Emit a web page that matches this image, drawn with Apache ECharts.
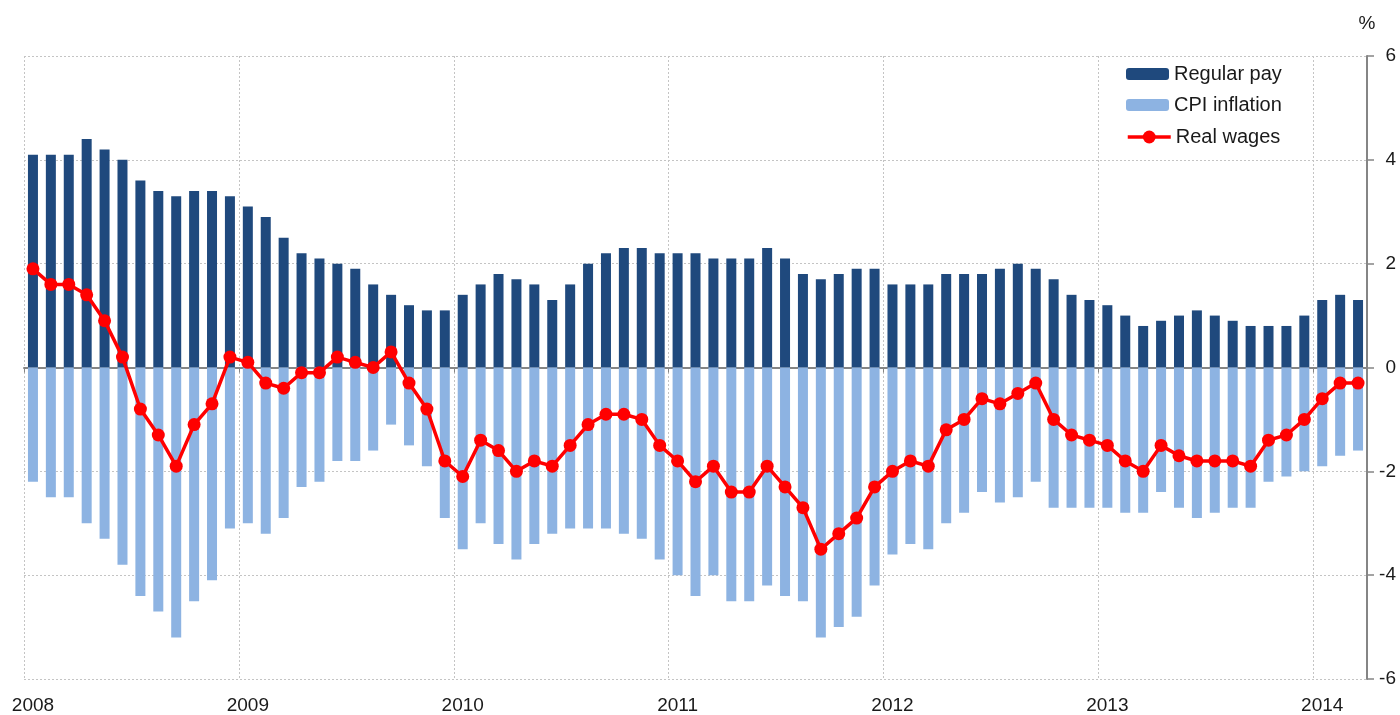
<!DOCTYPE html>
<html>
<head>
<meta charset="utf-8">
<script src="https://cdn.jsdelivr.net/npm/echarts@6/dist/echarts.min.js"></script>
<style>
html,body{margin:0;padding:0;background:#fff;}
#chart{width:1400px;height:715px;}
</style>
</head>
<body>
<div id="chart"></div>
<script>
// Tick labels / categories
const years = ['2008','2009','2010','2011','2012','2013','2014'];
const monthsInLastYear = 3;
const categories = [];
years.forEach(function (y, i) {
  const n = i === years.length - 1 ? monthsInLastYear : 12;
  for (let m = 1; m <= n; m++) categories.push(y + '-' + (m < 10 ? '0' + m : m));
});

// Series values (% y/y), Jan 2008 - Mar 2014
const regularPay = [
  4.1,4.1,4.1,4.4,4.2,4.0,3.6,3.4,3.3,3.4,3.4,3.3,
  3.1,2.9,2.5,2.2,2.1,2.0,1.9,1.6,1.4,1.2,1.1,1.1,
  1.4,1.6,1.8,1.7,1.6,1.3,1.6,2.0,2.2,2.3,2.3,2.2,
  2.2,2.2,2.1,2.1,2.1,2.3,2.1,1.8,1.7,1.8,1.9,1.9,
  1.6,1.6,1.6,1.8,1.8,1.8,1.9,2.0,1.9,1.7,1.4,1.3,
  1.2,1.0,0.8,0.9,1.0,1.1,1.0,0.9,0.8,0.8,0.8,1.0,
  1.3,1.4,1.3
];
const cpiInflation = [
  -2.2,-2.5,-2.5,-3.0,-3.3,-3.8,-4.4,-4.7,-5.2,-4.5,-4.1,-3.1,
  -3.0,-3.2,-2.9,-2.3,-2.2,-1.8,-1.8,-1.6,-1.1,-1.5,-1.9,-2.9,
  -3.5,-3.0,-3.4,-3.7,-3.4,-3.2,-3.1,-3.1,-3.1,-3.2,-3.3,-3.7,
  -4.0,-4.4,-4.0,-4.5,-4.5,-4.2,-4.4,-4.5,-5.2,-5.0,-4.8,-4.2,
  -3.6,-3.4,-3.5,-3.0,-2.8,-2.4,-2.6,-2.5,-2.2,-2.7,-2.7,-2.7,
  -2.7,-2.8,-2.8,-2.4,-2.7,-2.9,-2.8,-2.7,-2.7,-2.2,-2.1,-2.0,
  -1.9,-1.7,-1.6
];
const realWages = [
  1.9,1.6,1.6,1.4,0.9,0.2,-0.8,-1.3,-1.9,-1.1,-0.7,0.2,
  0.1,-0.3,-0.4,-0.1,-0.1,0.2,0.1,0.0,0.3,-0.3,-0.8,-1.8,
  -2.1,-1.4,-1.6,-2.0,-1.8,-1.9,-1.5,-1.1,-0.9,-0.9,-1.0,-1.5,
  -1.8,-2.2,-1.9,-2.4,-2.4,-1.9,-2.3,-2.7,-3.5,-3.2,-2.9,-2.3,
  -2.0,-1.8,-1.9,-1.2,-1.0,-0.6,-0.7,-0.5,-0.3,-1.0,-1.3,-1.4,
  -1.5,-1.8,-2.0,-1.5,-1.7,-1.8,-1.8,-1.8,-1.9,-1.4,-1.3,-1.0,
  -0.6,-0.3,-0.3
];
const seriesNames = ['Regular pay','CPI inflation','Real wages'];
const yTicks = { min: -6, max: 6, interval: 2 };

const FONT = '"Liberation Sans", Arial, sans-serif';
const TEXT = '#1a1a1a';
const isYearStart = function (idx) { return idx % 12 === 0; };
const legendText = { fontSize: 20, color: TEXT, fontFamily: FONT, lineHeight: 20 };

const chart = echarts.init(document.getElementById('chart'), null, { renderer: 'canvas' });
chart.setOption({
  animation: false,
  backgroundColor: '#ffffff',
  textStyle: { fontFamily: FONT, color: TEXT },
  grid: { left: 24, right: 33, top: 56, bottom: 35, containLabel: false },
  legend: [
    {
      orient: 'vertical', left: 1126, top: 64, padding: 0,
      itemWidth: 43, itemHeight: 12, itemGap: 11,
      textStyle: legendText,
      data: [seriesNames[0], seriesNames[1]]
    },
    {
      orient: 'vertical', left: 1126, top: 127, padding: 0,
      itemWidth: 43, itemHeight: 16, itemGap: 11,
      textStyle: legendText,
      lineStyle: { width: 3.5, color: '#FF0000' },
      data: [seriesNames[2]]
    }
  ],
  xAxis: [
    {
      type: 'category', data: categories, boundaryGap: true, position: 'bottom',
      axisLine: { show: false, onZero: false },
      axisTick: { show: false },
      axisLabel: {
        interval: function (idx) { return isYearStart(idx); },
        formatter: function (v) { return v.slice(0, 4); },
        fontSize: 19, color: TEXT, margin: 17, fontFamily: FONT
      },
      splitLine: {
        show: true,
        interval: function (idx) { return isYearStart(idx); },
        lineStyle: { color: '#c4c4c4', type: [2, 2], width: 1 }
      }
    },
    {
      type: 'category', data: categories, boundaryGap: true, position: 'bottom',
      axisLine: { show: true, onZero: true, lineStyle: { color: '#858585', width: 2 } },
      axisTick: {
        show: true, length: 5,
        interval: function (idx) { return isYearStart(idx); },
        lineStyle: { color: '#858585', width: 1 }
      },
      axisLabel: { show: false },
      splitLine: { show: false }
    }
  ],
  yAxis: {
    type: 'value', position: 'right',
    min: yTicks.min, max: yTicks.max, interval: yTicks.interval,
    name: '%', nameLocation: 'end', nameGap: 23,
    nameTextStyle: { fontSize: 19, color: TEXT, align: 'center', fontFamily: FONT },
    axisLine: { show: true, lineStyle: { color: '#858585', width: 2 } },
    axisTick: { show: true, length: 7, lineStyle: { color: '#858585', width: 1.5 } },
    axisLabel: { fontSize: 19, color: TEXT, margin: 29, align: 'right', fontFamily: FONT },
    splitLine: { show: true, lineStyle: { color: '#c4c4c4', type: [2, 2], width: 1 } }
  },
  series: [
    {
      name: seriesNames[0], type: 'bar', stack: 'pay', xAxisIndex: 0,
      data: regularPay, barWidth: 10,
      itemStyle: { color: '#1F497D' }
    },
    {
      name: seriesNames[1], type: 'bar', stack: 'pay', xAxisIndex: 0,
      data: cpiInflation, barWidth: 10,
      itemStyle: { color: '#8DB3E2' }
    },
    {
      name: seriesNames[2], type: 'line', xAxisIndex: 0,
      data: realWages,
      symbol: 'circle', symbolSize: 13, showAllSymbol: true,
      lineStyle: { color: '#FF0000', width: 3.5 },
      itemStyle: { color: '#FF0000' },
      z: 5
    }
  ]
});
</script>
</body>
</html>
